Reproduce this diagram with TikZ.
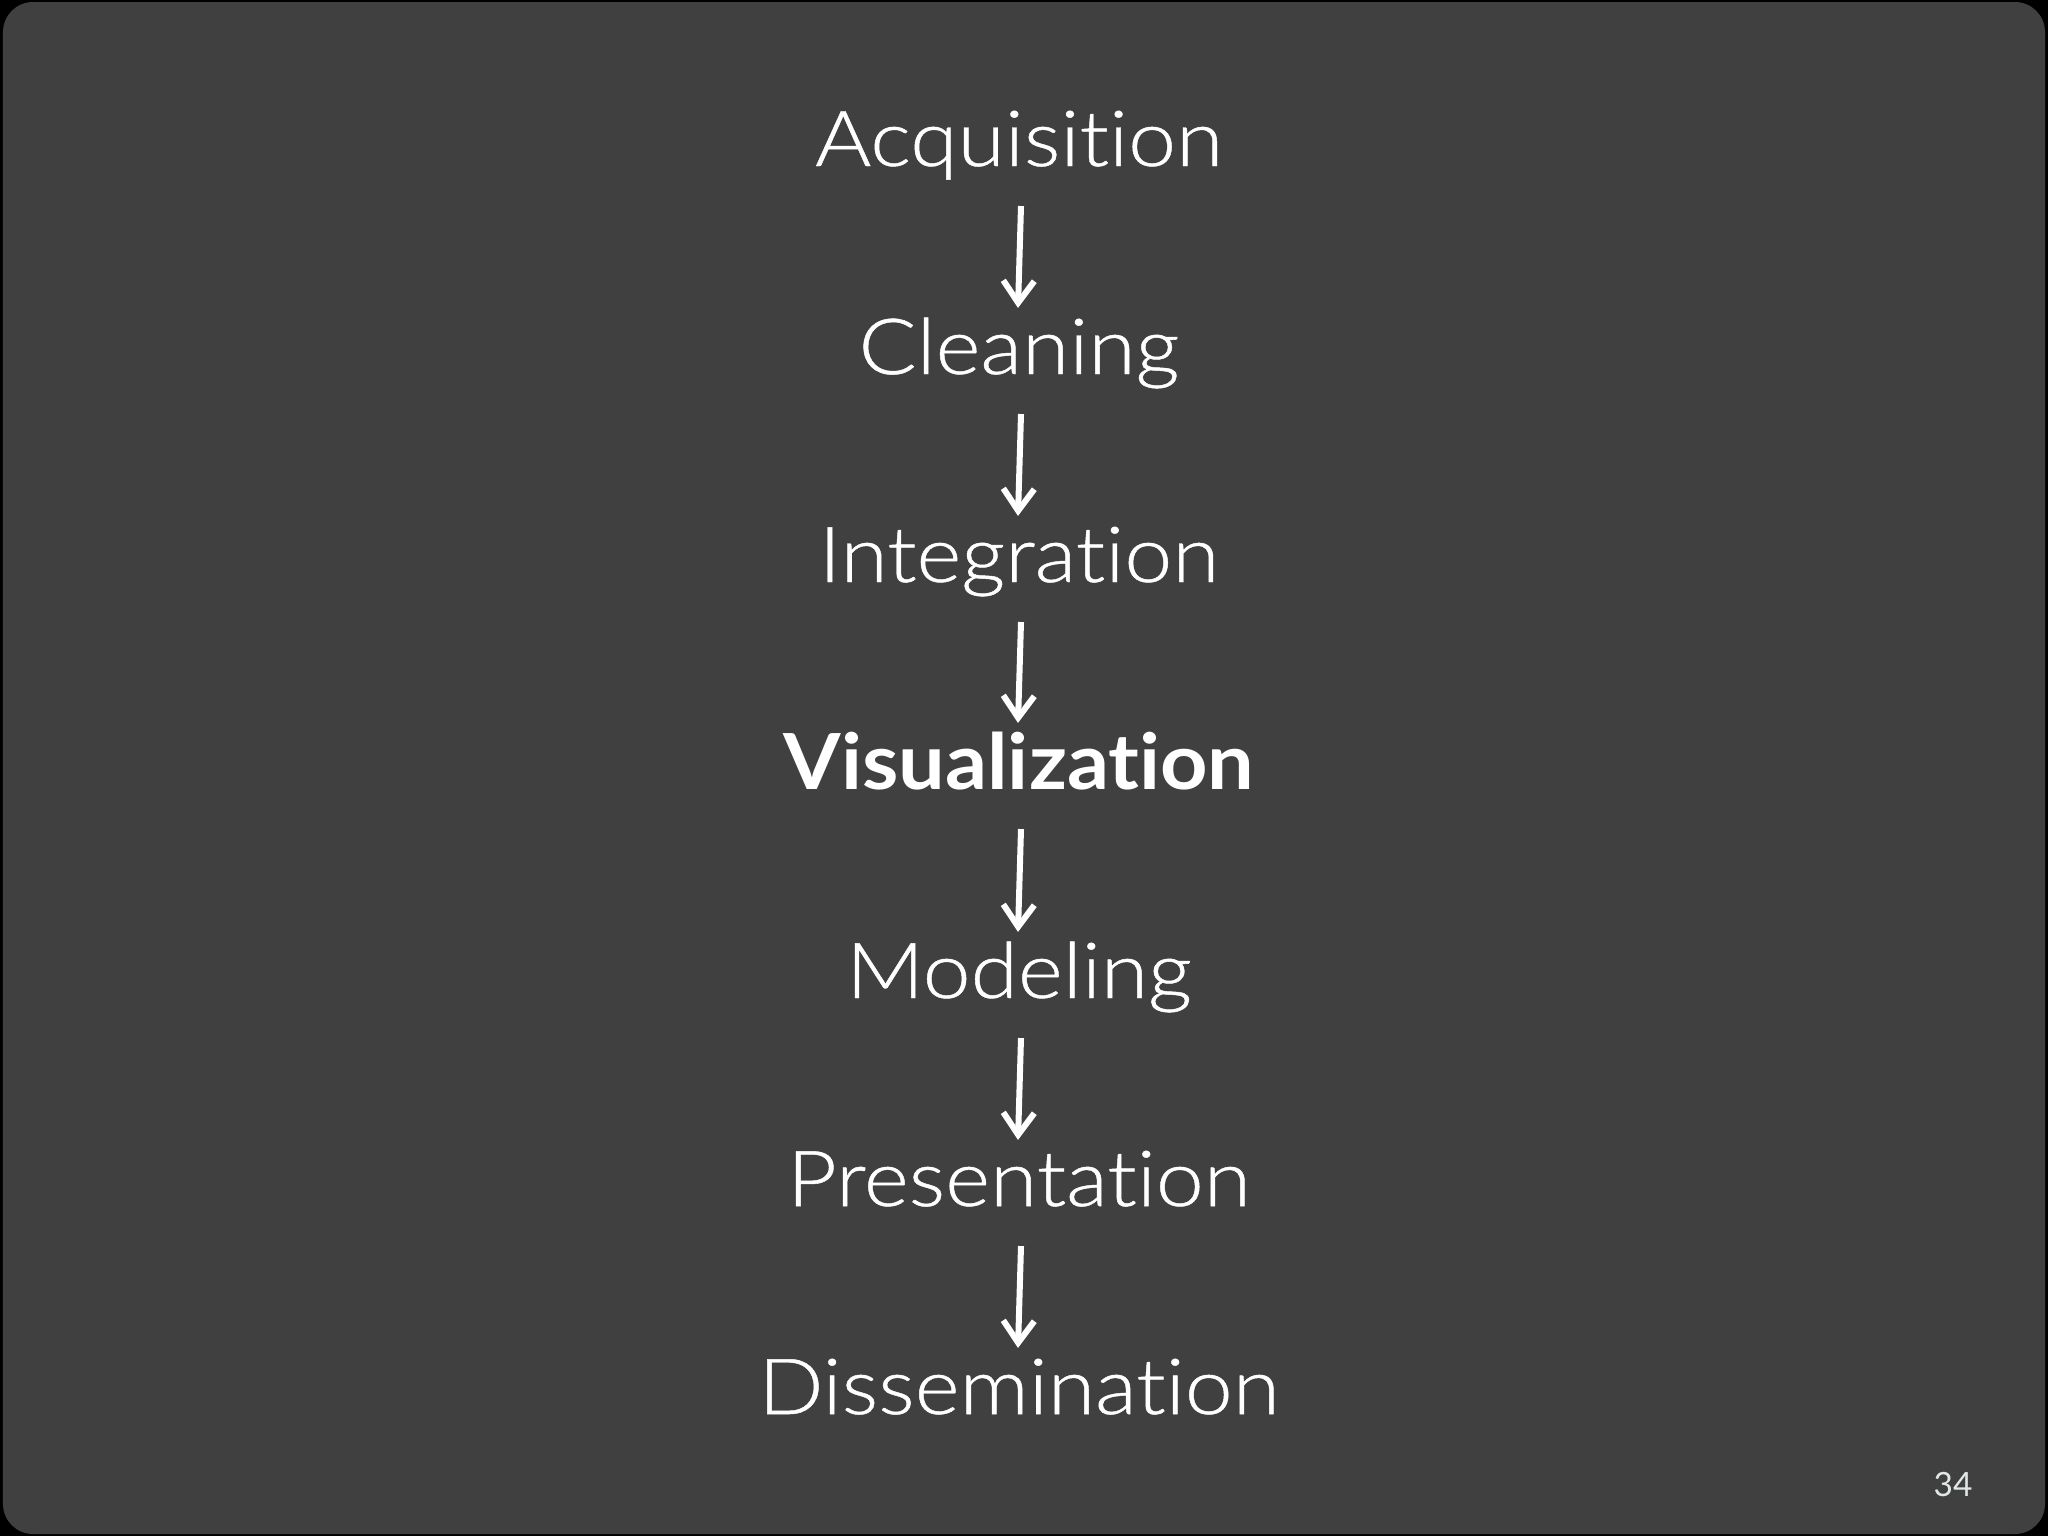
\documentclass[tikz,border=0pt]{standalone}
\usepackage{fontspec}
\setmainfont{Lato}[Ligatures=NoCommon, UprightFont={* Light}, BoldFont={* Bold},
  UprightFeatures={FakeStretch=1.11, FakeBold=0.6}, BoldFeatures={FakeStretch=1.07}]
\usetikzlibrary{arrows.meta}
\definecolor{slidebg}{RGB}{64,64,64}
\definecolor{pagenum}{RGB}{225,230,230}
\newfontfamily\pagefont{Lato}
\tikzset{
  stage/.style={anchor=base, text=white, inner sep=0pt, font=\fontsize{22}{26}\selectfont},
  boldstage/.style={stage, font=\fontsize{22}{26}\selectfont\bfseries},
  flow/.style={draw=white, line width=0.06cm, -{Straight Barb[length=0.22cm,width=0.31cm]}}
}
\begin{document}
\begin{tikzpicture}[x=0.01cm,y=-0.01cm]
\useasboundingbox (0,0) rectangle (2048,1536);
\fill[black] (0,0) rectangle (2048,1536);
\fill[slidebg, rounded corners=0.3cm] (3,2) rectangle (2045,1534);
\node[stage] (acq) at (1019,166) {Acquisition};
\node[stage] (cle) at (1019,374) {Cleaning};
\node[stage] (int) at (1019,582) {Integration};
\node[boldstage] (vis) at (1019,789) {Visualization};
\node[stage] (mod) at (1019,998) {Modeling};
\node[stage] (pre) at (1019,1206) {Presentation};
\node[stage] (dis) at (1019,1414) {Dissemination};
\foreach \a/\b in {acq/cle,cle/int,int/vis,vis/mod,mod/pre,pre/dis}{
  \draw[flow] ([xshift=0.02cm,yshift=-0.4cm]\a.base) -- ([xshift=-0.01cm,yshift=0.66cm]\b.base);
}
\node[anchor=base, text=pagenum, inner sep=0pt, font=\pagefont\fontsize{9.5}{11}\selectfont] (pg) at (1953,1496) {34};
\end{tikzpicture}
\end{document}
